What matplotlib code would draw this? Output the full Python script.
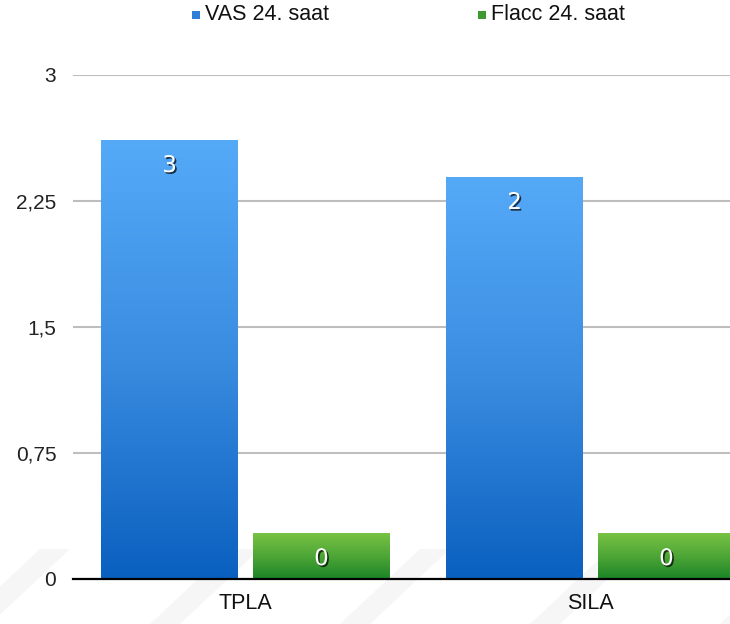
import numpy as np
import matplotlib
matplotlib.use("Agg")
import matplotlib.pyplot as plt
import matplotlib.patheffects as pe
from matplotlib.patches import Polygon, Rectangle
from matplotlib.colors import LinearSegmentedColormap

categories = ["TPLA", "SILA"]
series_names = ["VAS 24. saat", "Flacc 24. saat"]
vas = [2.61, 2.39]
flacc = [0.27, 0.27]
vas_labels = ["3", "2"]
flacc_labels = ["0", "0"]
yticks = [0, 0.75, 1.5, 2.25, 3]
ytick_labels = ["0", "0,75", "1,5", "2,25", "3"]

W, H = 730, 624
fig = plt.figure(figsize=(W / 100, H / 100), dpi=100)
fig.patch.set_facecolor("white")

# faint watermark stripes at bottom (behind everything)
bg = fig.add_axes([0, 0, 1, 1], zorder=-5)
bg.set_xlim(0, W)
bg.set_ylim(0, H)
bg.axis("off")
for x0 in [-40, 150, 340, 530, 720]:
    bg.add_patch(Polygon([[x0, 0], [x0 + 30, 0], [x0 + 110, 75], [x0 + 80, 75]],
                         closed=True, facecolor="#F6F6F6", edgecolor="none"))

left = 73 / W
width = 690 / W
bottom = (H - 579) / H
height = 504 / H
ax = fig.add_axes([left, bottom, width, height])
ax.set_facecolor("none")

for s in ["left", "right", "top"]:
    ax.spines[s].set_visible(False)
ax.spines["bottom"].set_color("black")
ax.spines["bottom"].set_linewidth(1.6)
ax.spines["bottom"].set_zorder(5)

ax.set_yticks(yticks)
ax.set_yticklabels(ytick_labels, fontsize=15, family="Liberation Sans", color="#222222")
ax.tick_params(axis="y", length=0, pad=12)
ax.set_xticks(range(len(categories)))
ax.set_xticklabels(categories, fontsize=15.5, family="Liberation Sans", color="#111111")
ax.tick_params(axis="x", length=0, pad=10)
ax.grid(axis="y", color="#BEBEBE", linewidth=1.5)
ax.set_axisbelow(True)

blue_cmap = LinearSegmentedColormap.from_list("b", ["#0A60BF", "#3A8CE0", "#55AAF8"])
green_cmap = LinearSegmentedColormap.from_list("g", ["#1B8427", "#4EA636", "#78C244"])

bw = 0.397
off = 0.22
grad = np.linspace(0, 1, 256).reshape(-1, 1)

def grad_bar(xc, h, cmap, label):
    x0, x1 = xc - bw / 2, xc + bw / 2
    ax.imshow(grad, extent=[x0, x1, 0, h], origin="lower", cmap=cmap, aspect="auto", zorder=2)
    t = ax.annotate(label, (xc, h), xytext=(0, -18), textcoords="offset points",
                    ha="center", va="center", fontsize=16.5, color="white", family="DejaVu Sans", zorder=4)
    t.set_path_effects([pe.SimplePatchShadow(offset=(1.2, -1.2), shadow_rgbFace="black", alpha=0.7), pe.Normal()])

for i in range(len(categories)):
    grad_bar(i - off, vas[i], blue_cmap, vas_labels[i])
    grad_bar(i + off, flacc[i], green_cmap, flacc_labels[i])

ax.set_xlim(-0.5, 1.5)
ax.set_ylim(0, 3)

# legend
def leg(xpx, color, text):
    fig.patches.append(Rectangle(((xpx - 4) / W, (H - 19) / H), 8 / W, 8 / H, transform=fig.transFigure,
                                 facecolor=color, edgecolor="none"))
    fig.text((xpx + 9) / W, (H - 15) / H, text, fontsize=15.5, family="Liberation Sans",
             color="#111111", ha="left", va="center")

leg(196, "#2E7FD8", series_names[0])
leg(482, "#3E9A30", series_names[1])

fig.savefig("out.png", dpi=100)
